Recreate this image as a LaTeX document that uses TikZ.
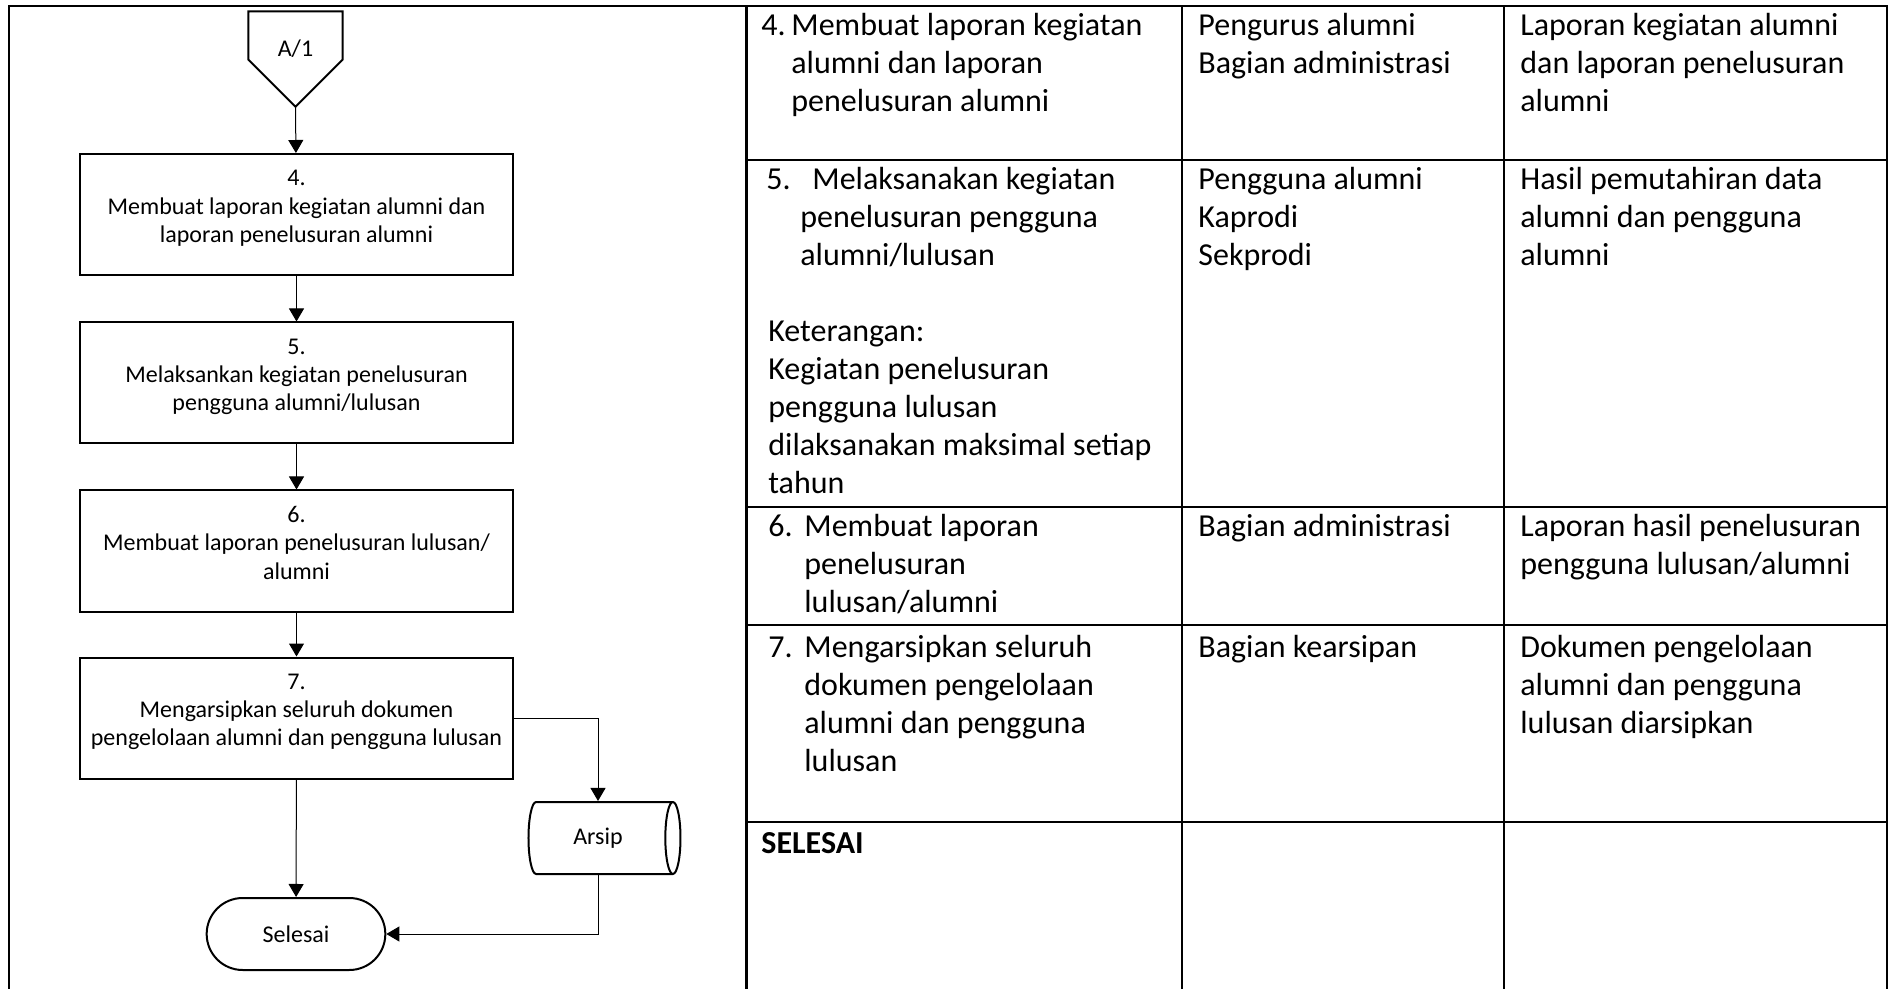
\documentclass[tikz,border=0pt]{standalone}
\usepackage{fontspec}
\setmainfont{Carlito}
\usetikzlibrary{arrows.meta,shapes.geometric,shapes.misc}
\newcommand{\flowfont}{\fontsize{12pt}{14.15pt}\selectfont}
\newcommand{\tabfont}{\fontsize{16pt}{19pt}\selectfont}
\newcommand{\baris}[1]{\begin{tabular}[t]{@{}l@{}}#1\end{tabular}}

\begin{document}
\begin{tikzpicture}[x=0.5pt,y=-0.5pt,
        proses/.style={draw,line width=1pt,minimum width=216.5pt,minimum height=60.5pt,align=center,font=\flowfont,inner sep=0pt},
        panah/.style={-{Triangle[length=6.5pt,width=7.5pt]},line width=0.5pt},
        sel/.style={anchor=base west,inner sep=0pt,font=\tabfont},
        garis/.style={line width=1.1pt}]
    \useasboundingbox (0,0) rectangle (1891,989);

    % bingkai dan tabel
    \draw[garis] (9.3,989) -- (9.3,6) -- (1886.7,6) -- (1886.7,989);
    \draw[garis] (746.5,6) -- (746.5,989);
    \draw[garis] (1182,6) -- (1182,989);
    \draw[garis] (1504,6) -- (1504,989);
    \draw[garis] (746.5,160) -- (1886.7,160);
    \draw[garis] (746.5,507) -- (1886.7,507);
    \draw[garis] (746.5,625) -- (1886.7,625);
    \draw[garis] (746.5,822) -- (1886.7,822);

    % bagan alir
    \draw[line width=1pt] (248.3,11.5) -- (342.7,11.5) -- (342.7,59.5) -- (295.5,106.7) -- (248.3,59.5) -- cycle;
    \node[font=\flowfont] (konektor) at (295.5,49) {A/1};
    \coordinate (ujung) at (295.5,106.7);

    \node[proses] (b4) at (296.5,214.5) {4.\\Membuat laporan kegiatan alumni dan\\laporan penelusuran alumni\\[-6pt]\mbox{}};
    \node[proses] (b5) at (296.5,383) {5.\\Melaksankan kegiatan penelusuran\\pengguna alumni/lulusan\\[-6pt]\mbox{}};
    \node[proses] (b6) at (296.5,551) {6.\\Membuat laporan penelusuran lulusan/\\alumni\\[-6pt]\mbox{}};
    \node[proses] (b7) at (296.5,718) {7.\\Mengarsipkan seluruh dokumen\\pengelolaan alumni dan pengguna lulusan\\[-6pt]\mbox{}};
    \node[draw,line width=1pt,rounded rectangle,minimum width=96pt,minimum height=36pt,font=\flowfont] (selesai) at (296,934) {Selesai};
    \node[draw,line width=1pt,cylinder,aspect=0.45,minimum width=36pt,minimum height=76pt,font=\flowfont] (arsip) at (598,838) {Arsip};

    \draw[panah] (ujung) -- (b4);
    \draw[panah] (b4) -- (b5);
    \draw[panah] (b5) -- (b6);
    \draw[panah] (b6) -- (b7);
    \draw[panah] (b7) -- (selesai);
    \draw[panah] (b7.east) -| (arsip.north);
    \draw[panah] (arsip.south) |- (selesai.east);

    % isi tabel
    \node[sel] (no4) at (761,36) {4.};
    \node[sel] (langkah4) at (791,36) {\baris{Membuat laporan kegiatan\\alumni dan laporan\\penelusuran alumni}};
    \node[sel] (pel4) at (1198,36) {\baris{Pengurus alumni\\Bagian administrasi}};
    \node[sel] (out4) at (1520,36) {\baris{Laporan kegiatan alumni\\dan laporan penelusuran\\alumni}};

    \node[sel] (no5) at (766,189.7) {5.};
    \node[sel] (langkah5) at (800,189.7) {\baris{\hspace*{6pt}Melaksanakan kegiatan\\penelusuran pengguna\\alumni/lulusan}};
    \node[sel] (ket) at (768,342) {\baris{Keterangan:\\Kegiatan penelusuran\\pengguna lulusan\\dilaksanakan maksimal setiap\\tahun}};
    \node[sel] (pel5) at (1198,189.7) {\baris{Pengguna alumni\\Kaprodi\\Sekprodi}};
    \node[sel] (out5) at (1520,189.7) {\baris{Hasil pemutahiran data\\alumni dan pengguna\\alumni}};

    \node[sel] (no6) at (768,537) {6.};
    \node[sel] (langkah6) at (804,537) {\baris{Membuat laporan\\penelusuran\\lulusan/alumni}};
    \node[sel] (pel6) at (1198,537) {Bagian administrasi};
    \node[sel] (out6) at (1520,537) {\baris{Laporan hasil penelusuran\\pengguna lulusan/alumni}};

    \node[sel] (no7) at (768,657) {7.};
    \node[sel] (langkah7) at (804,657) {\baris{Mengarsipkan seluruh\\dokumen pengelolaan\\alumni dan pengguna\\lulusan}};
    \node[sel] (pel7) at (1198,657) {Bagian kearsipan};
    \node[sel] (out7) at (1520,657) {\baris{Dokumen pengelolaan\\alumni dan pengguna\\lulusan diarsipkan}};

    \node[sel] (akhir) at (761,853.7) {\bfseries SELESAI};
\end{tikzpicture}
\end{document}
